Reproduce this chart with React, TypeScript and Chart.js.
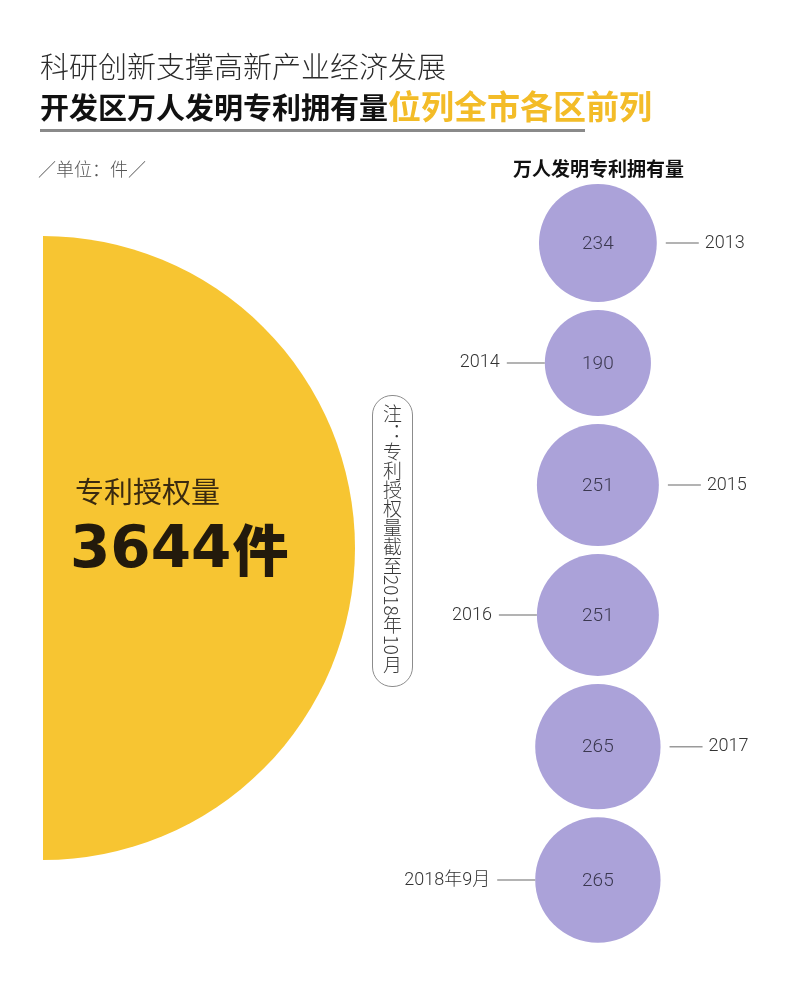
import React, { useEffect, useRef } from "react";
import { Chart, registerables } from "chart.js";

Chart.register(...registerables);

// ---------- data ----------
const YEARS = ["2013", "2014", "2015", "2016", "2017", "2018年9月"];
const PATENTS_PER_10K = [234, 190, 251, 251, 265, 265];
const LABEL_SIDES = ["right", "left", "right", "left", "right", "left"];
const TOTAL_PATENTS = 3644;
const TOTAL_UNIT = "件";
const TOTAL_LABEL = "专利授权量";

// ---------- text ----------
const TITLE_1 = "科研创新支撑高新产业经济发展";
const TITLE_2A = "开发区万人发明专利拥有量";
const TITLE_2B = "位列全市各区前列";
const UNIT_TEXT = "／单位：件／";
const SERIES_TITLE = "万人发明专利拥有量";
const NOTE = "注：专利授权量截至2018年10月";

// ---------- style / layout ----------
const W = 800;
const H = 984;
const YELLOW = "#F7C532";
const GOLD = "#F3BC28";
const PURPLE = "#ABA2D9";
const CJK = '"Noto Sans CJK SC", "Noto Sans", sans-serif';
const PX_PER_SQRT = 3.85; // bubble radius scale
const BUBBLE_GAP = 8;
const TOTAL_RADIUS = 312;
const COLUMN_X = 73.3; // purple column position on 0..100 x axis
const TOTAL_Y = 305; // yellow centre on y axis

const radii = PATENTS_PER_10K.map((v) => PX_PER_SQRT * Math.sqrt(v));
const centers: number[] = [];
radii.forEach((r, i) => {
  centers.push(i === 0 ? 0 : centers[i - 1] + radii[i - 1] + r + BUBBLE_GAP);
});

const labelPlugin = {
  id: "bubbleLabels",
  afterDatasetsDraw(chart: any) {
    const ctx = chart.ctx as CanvasRenderingContext2D;
    ctx.save();
    // yellow total
    const ye = chart.getDatasetMeta(0).data[0];
    ctx.textBaseline = "middle";
    ctx.textAlign = "left";
    ctx.fillStyle = "#3a2a10";
    ctx.font = `400 29px ${CJK}`;
    ctx.fillText(TOTAL_LABEL, ye.x + 32, ye.y - 56);
    ctx.fillStyle = "#231a0c";
    ctx.font = 'bold 58px "DejaVu Sans", "Liberation Sans", sans-serif';
    const num = String(TOTAL_PATENTS);
    ctx.fillText(num, ye.x + 27, ye.y + 4);
    const nw = ctx.measureText(num).width;
    ctx.font = `900 56px ${CJK}`;
    ctx.fillText(TOTAL_UNIT, ye.x + 27 + nw + 1, ye.y + 2);

    // purple bubbles
    const meta = chart.getDatasetMeta(1);
    meta.data.forEach((el: any, i: number) => {
      const r = el.options.radius;
      ctx.textAlign = "center";
      ctx.fillStyle = "#3b3850";
      ctx.font = '300 19px Roboto, "Liberation Sans", sans-serif';
      ctx.fillText(String(PATENTS_PER_10K[i]), el.x, el.y + 1);

      ctx.strokeStyle = "#9a9a9a";
      ctx.lineWidth = 1.5;
      ctx.fillStyle = "#333";
      ctx.font = `300 18px Roboto, "Liberation Sans", ${CJK}`;
      if (LABEL_SIDES[i] === "right") {
        const x1 = el.x + r + 9;
        const x2 = x1 + 33;
        ctx.beginPath();
        ctx.moveTo(x1, el.y);
        ctx.lineTo(x2, el.y);
        ctx.stroke();
        ctx.textAlign = "left";
        ctx.fillText(YEARS[i], x2 + 6, el.y);
      } else {
        const x2 = el.x - r;
        const x1 = x2 - 38;
        ctx.beginPath();
        ctx.moveTo(x1, el.y);
        ctx.lineTo(x2, el.y);
        ctx.stroke();
        ctx.textAlign = "right";
        ctx.fillText(YEARS[i], x1 - 7, el.y);
      }
    });
    ctx.restore();
  },
};

export default function App() {
  const ref = useRef<HTMLCanvasElement | null>(null);

  useEffect(() => {
    if (!ref.current) return;
    const chart = new Chart(ref.current, {
      type: "bubble",
      data: {
        datasets: [
          {
            label: TOTAL_LABEL,
            data: [{ x: 0, y: TOTAL_Y, r: TOTAL_RADIUS }],
            backgroundColor: YELLOW,
            borderWidth: 0,
            clip: 0,
          } as any,
          {
            label: SERIES_TITLE,
            data: PATENTS_PER_10K.map((v, i) => ({ x: COLUMN_X, y: centers[i], r: radii[i] })),
            backgroundColor: PURPLE,
            borderWidth: 0,
            clip: false,
          } as any,
        ],
      },
      options: {
        animation: false,
        responsive: false,
        events: [],
        layout: { autoPadding: false, padding: { left: 43, right: 0, top: 0, bottom: 0 } },
        scales: {
          x: { type: "linear", min: 0, max: 100, display: false },
          y: { type: "linear", min: -243, max: 741, reverse: true, display: false },
        },
        plugins: {
          legend: { display: false },
          tooltip: { enabled: false },
        },
      } as any,
      plugins: [labelPlugin],
    });
    return () => chart.destroy();
  }, []);

  const abs = (s: React.CSSProperties): React.CSSProperties => ({ position: "absolute", whiteSpace: "nowrap", ...s });

  return (
    <div style={{ position: "absolute", left: 0, top: 0, width: W, height: H, background: "#fff", overflow: "hidden", fontFamily: CJK }}>
      <canvas ref={ref} width={W} height={H} style={{ position: "absolute", left: 0, top: 0 }} />
      <div style={abs({ left: 40, top: 51, fontSize: 29, lineHeight: "29px", fontWeight: 300, color: "#2b2b2b" })}>{TITLE_1}</div>
      <div style={abs({ left: 40, top: 89, fontSize: 29, lineHeight: "33px", fontWeight: 700, color: "#111" })}>
        <span>{TITLE_2A}</span>
        <span style={{ color: GOLD, fontSize: 33 }}>{TITLE_2B}</span>
      </div>
      <div style={abs({ left: 40, top: 129, width: 545, height: 3, background: "#8a8a8a" })} />
      <div style={abs({ left: 38, top: 158, fontSize: 18, lineHeight: "20px", fontWeight: 300, color: "#555" })}>{UNIT_TEXT}</div>
      <div style={abs({ left: 513, top: 158, fontSize: 19, lineHeight: "20px", fontWeight: 700, color: "#111" })}>{SERIES_TITLE}</div>
      <div
        style={abs({
          left: 372,
          top: 395,
          width: 41,
          height: 292,
          border: "1.3px solid #8c8c8c",
          borderRadius: 20,
          display: "flex",
          justifyContent: "center",
          alignItems: "flex-start",
          paddingTop: 8,
          boxSizing: "border-box",
        })}
      >
        <div style={{ writingMode: "vertical-rl", fontSize: 19, lineHeight: "21px", fontWeight: 300, color: "#3a3a3a" }}>{NOTE}</div>
      </div>
    </div>
  );
}
